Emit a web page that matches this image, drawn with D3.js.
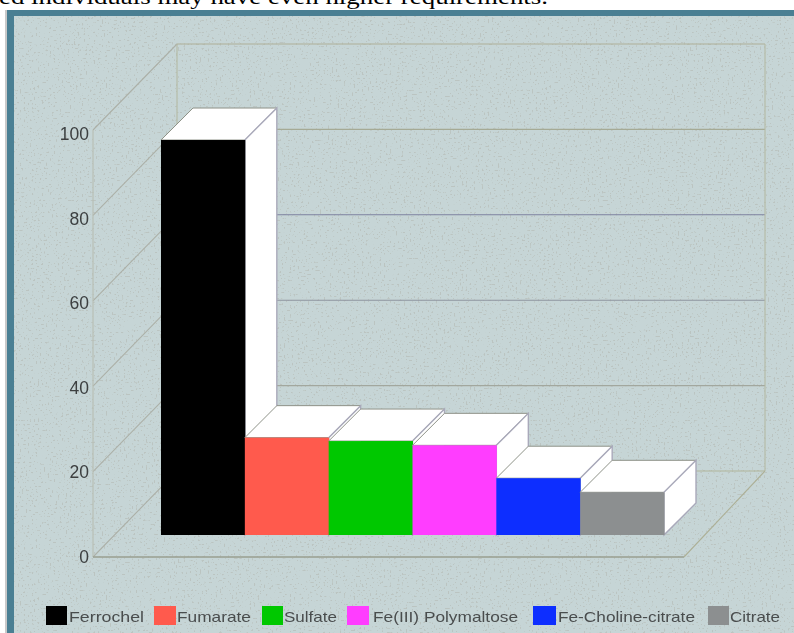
<!DOCTYPE html>
<html><head><meta charset="utf-8">
<script src="https://cdn.jsdelivr.net/npm/d3@7"></script>
<style>html,body{margin:0;padding:0;background:#fff;overflow:hidden}svg{display:block}</style>
</head><body><svg id="c" width="794" height="633"></svg>
<script>
const categories=["Ferrochel","Fumarate","Sulfate","Fe(III) Polymaltose","Fe-Choline-citrate","Citrate"];
const values=[92.5,22.8,22,21,13.3,10];
const colors=["#000000","#ff5a4d","#00c800","#ff3cff","#0a2fff","#8c8f90"];
const yTicks=[0,20,40,60,80,100];
const legendSwatchX=[46,154,262,347,533,708];
const legendSwatchW=[21,22,21,22,23,21];
const legendTextX=[69,177,284,373,558,730];
const legendTextW=[75,74,53,145,137,50];

const svg=d3.select("#c");
const defs=svg.append("defs");
defs.append("filter").attr("id","soft2").attr("filterUnits","userSpaceOnUse").attr("x",0).attr("y",0).attr("width",794).attr("height",633)
  .append("feGaussianBlur").attr("stdDeviation",0.45);
const sp=defs.append("filter").attr("id","speck").attr("color-interpolation-filters","sRGB").attr("x",0).attr("y",0).attr("width","100%").attr("height","100%");
sp.append("feTurbulence").attr("type","fractalNoise").attr("baseFrequency",0.5).attr("numOctaves",3).attr("seed",7);
sp.append("feColorMatrix").attr("type","matrix").attr("values","0 0 0 0 0.68  0 0 0 0 0.68  0 0 0 0 0.64  1.5 0 0 14 -9.7");

const y=d3.scaleLinear().domain([0,100]).range([557,130]);
const depthWall={x:84,y:-86};
const depthBar={x:32,y:-32};
const barBase=-22;
const x=d3.scaleBand().domain(categories).range([161,664]).paddingInner(0).paddingOuter(0);
const left=93,right=681;

// frame
svg.append("rect").attr("x",5).attr("y",10).attr("width",2).attr("height",623).attr("fill","#c9c9c9");
svg.append("rect").attr("x",7).attr("y",10).attr("width",787).attr("height",623).attr("fill","#4a7f93");
svg.append("rect").attr("x",14).attr("y",16).attr("width",780).attr("height",617).attr("fill","#c6d5d6");
svg.append("rect").attr("x",14).attr("y",16).attr("width",780).attr("height",617).attr("filter","url(#speck)").attr("opacity",0.4);
svg.append("text").attr("x",-1).attr("y",4).attr("font-family","Liberation Serif").attr("font-size",22)
  .attr("textLength",549).attr("lengthAdjust","spacingAndGlyphs").attr("fill","#000").text("ed individuals may have even higher requirements.");

const g=svg.append("g").attr("filter","url(#soft2)");
const gl=(x1,y1,x2,y2,c,w)=>g.append("line").attr("x1",x1).attr("y1",y1).attr("x2",x2).attr("y2",y2).attr("stroke",c).attr("stroke-width",w||1.1);
const gridTint={0:"#b2b69c",20:"#a2a79e",40:"#8f95a0",60:"#7c82a0",80:"#a5aa95",100:"#adb097"};
yTicks.forEach(t=>{
  gl(left,y(t),left+depthWall.x,y(t)+depthWall.y,"#acb0a8");
  gl(left+depthWall.x,y(t)+depthWall.y,right+depthWall.x,y(t)+depthWall.y,gridTint[t]);
});
gl(left,y(0),left,y(100),"#b7bdb2");
gl(left+depthWall.x,y(0)+depthWall.y,left+depthWall.x,y(100)+depthWall.y,"#b4baa4");
gl(right+depthWall.x,y(0)+depthWall.y,right+depthWall.x,y(100)+depthWall.y,"#b4baa4");
gl(left,y(0),right+3,y(0),"#9a9f90",1.3);
gl(right+3,y(0),right+depthWall.x,y(0)+depthWall.y,"#adb097");

// bars: each one painted over the side face of the bar to its left
const by=v=>y(v)+barBase;
const bars=svg.append("g").attr("filter","url(#soft2)").selectAll("g").data(values).join("g");
const w=x.bandwidth();
const pts=a=>a.map(p=>p.join(",")).join(" ");
bars.append("polygon").attr("fill","#fff").attr("stroke","#8e9288").attr("stroke-width",1)
  .attr("points",(d,i)=>{const a=x(categories[i]);return pts([[a,by(d)],[a+depthBar.x,by(d)+depthBar.y],[a+w+depthBar.x,by(d)+depthBar.y],[a+w,by(d)]]);});
bars.append("polygon").attr("fill","#fff").attr("stroke","#a9a9ba").attr("stroke-width",1.4)
  .attr("points",(d,i)=>{const a=x(categories[i])+w;return pts([[a,by(d)],[a+depthBar.x,by(d)+depthBar.y],[a+depthBar.x,by(0)+depthBar.y],[a,by(0)]]);});
bars.append("rect").attr("x",(d,i)=>x(categories[i])).attr("y",d=>by(d)).attr("width",w+0.5)
  .attr("height",d=>by(0)-by(d)).attr("fill",(d,i)=>colors[i]);

// axis labels
const labels=svg.append("g").attr("filter","url(#soft2)");
labels.selectAll("text").data(yTicks).join("text").attr("x",89).attr("y",t=>y(t)+6+(t/100)*4)
  .attr("text-anchor","end").attr("font-family","Liberation Sans").attr("font-size",17.5).attr("fill","#3c3f40").text(t=>t);

// legend
const leg=svg.append("g").attr("filter","url(#soft2)");
categories.forEach((c,i)=>{
  leg.append("rect").attr("x",legendSwatchX[i]).attr("y",606).attr("width",legendSwatchW[i]).attr("height",19).attr("fill",colors[i]);
  leg.append("text").attr("x",legendTextX[i]).attr("y",622).attr("font-family","Liberation Sans").attr("font-size",14.5)
    .attr("fill","#4a4d4e").attr("textLength",legendTextW[i]).attr("lengthAdjust","spacingAndGlyphs").text(c);
});
</script></body></html>
